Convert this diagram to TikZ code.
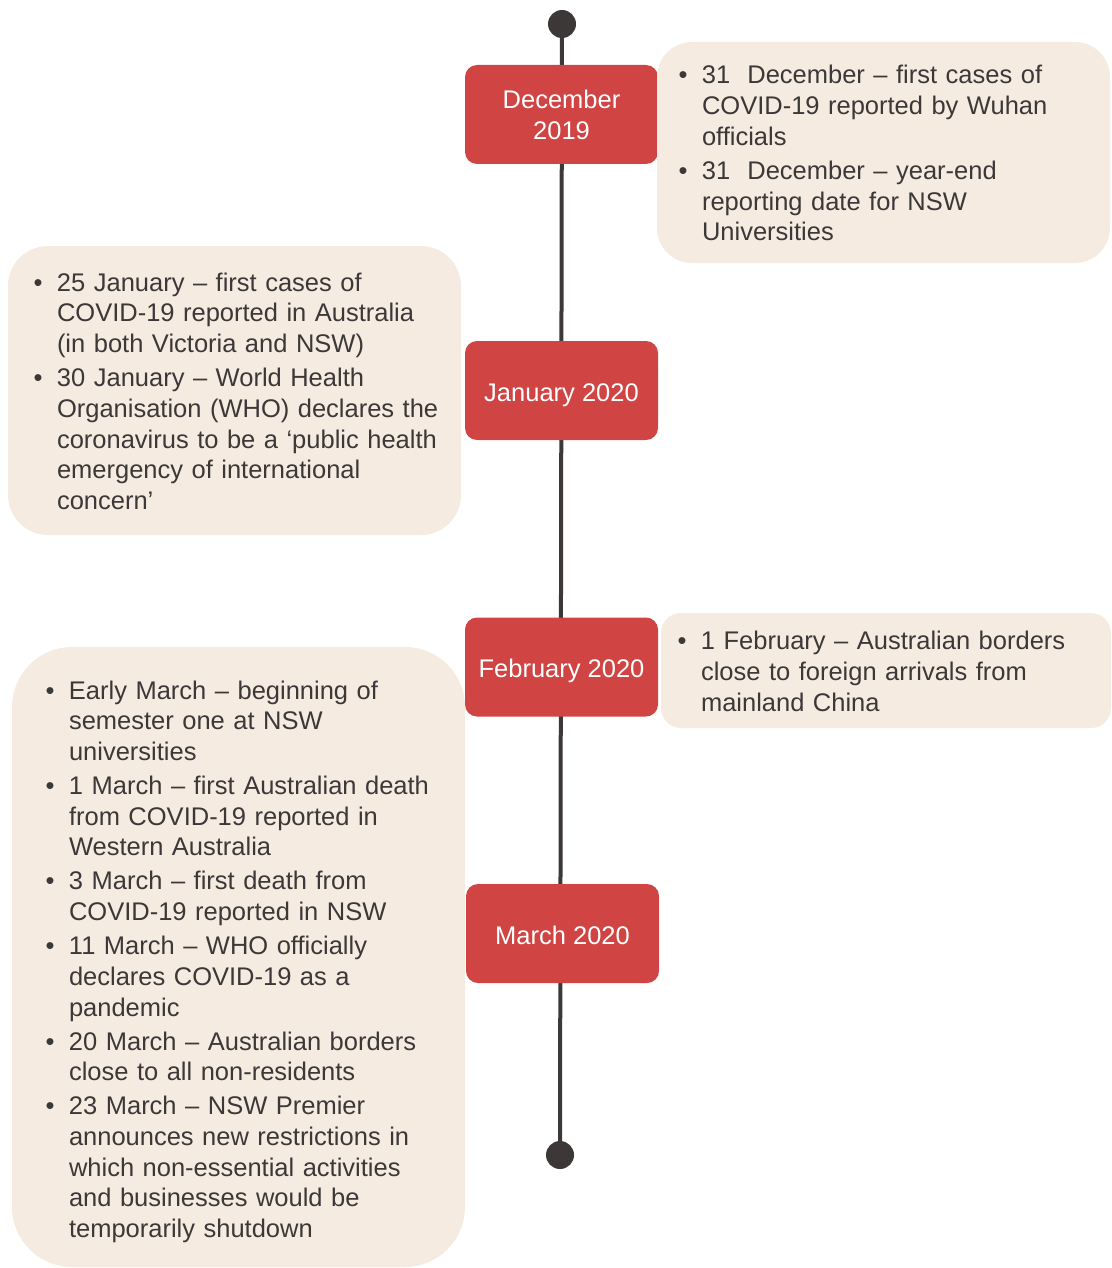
\documentclass[tikz,border=0pt]{standalone}
\usepackage{fontspec}
\setmainfont{Liberation Sans}
\usetikzlibrary{positioning}
\definecolor{markRed}{HTML}{D14444}
\definecolor{noteCream}{HTML}{F6EBE0}
\definecolor{lineDark}{HTML}{3C3838}
\newcommand{\bitem}[1]{\par\hangindent=23.5pt\hangafter=1\noindent\makebox[23.5pt][l]{\textbullet}#1\par}

\begin{document}
\begin{tikzpicture}[x=1pt, y=-1pt]
\tikzstyle{dotStyle}=[shape = circle, minimum size = 28pt, inner sep = 0pt, fill = lineDark]
\tikzstyle{lineStyle}=[line width = 4pt, color = lineDark]
\tikzstyle{monthStyle}=[shape = rectangle, rounded corners = 12pt, minimum width = 193pt, minimum height = 99pt, inner sep = 0pt, fill = markRed, text = white, align = center, font = \fontsize{25.5}{31}\selectfont]
\tikzstyle{monthSingle}=[monthStyle, text height = 21.3pt, text depth = 0pt]
\tikzstyle{noteStyle}=[shape = rectangle, fill = noteCream, inner sep = 0pt]
\tikzstyle{noteText}=[text width = 440pt, inner sep = 0pt, align = left, text = lineDark, anchor = west, font = \fontsize{25.5}{30.7}\selectfont\setlength{\parskip}{3.3pt}]
\useasboundingbox (0,0) rectangle (1111,1268);
\node[dotStyle] (start) at (562,24) {};
\node[dotStyle] (end) at (560,1155) {};
\draw[lineStyle] (start) -- (end);
\node[monthStyle] (dec) at (561.5,114.5) {December\\2019};
\node[monthSingle] (jan) at (561.5,390.5) {January 2020};
\node[monthSingle] (feb) at (561.5,667) {February 2020};
\node[monthSingle] (mar) at (562.5,933.5) {March 2020};
\node[noteStyle, minimum width = 453pt, minimum height = 221pt, rounded corners = 35pt] (decNote) at (883.5,152.5) {};
\node[noteText] (decText) at ([xshift=21.5pt, yshift=7pt]decNote.west) {%
\bitem{31~~December – first cases of\newline COVID-19 reported by Wuhan\newline officials}
\bitem{31~~December – year-end\newline reporting date for NSW\newline Universities}};
\node[noteStyle, minimum width = 453pt, minimum height = 289pt, rounded corners = 40pt] (janNote) at (234.5,390.5) {};
\node[noteText] (janText) at ([xshift=25.5pt, yshift=7pt]janNote.west) {%
\bitem{25 January – first cases of\newline COVID-19 reported in Australia\newline (in both Victoria and NSW)}
\bitem{30 January – World Health\newline Organisation (WHO) declares the\newline coronavirus to be a ‘public health\newline emergency of international\newline concern’}};
\node[noteStyle, minimum width = 450pt, minimum height = 115pt, rounded corners = 20pt] (febNote) at (886,670.5) {};
\node[noteText] (febText) at ([xshift=16.5pt, yshift=7pt]febNote.west) {%
\bitem{1 February – Australian borders\newline close to foreign arrivals from\newline mainland China}};
\node[noteStyle, minimum width = 453pt, minimum height = 620pt, rounded corners = 60pt] (marNote) at (238.5,957) {};
\node[noteText] (marText) at ([xshift=33.5pt, yshift=3pt]marNote.west) {%
\bitem{Early March – beginning of\newline semester one at NSW\newline universities}
\bitem{1 March – first Australian death\newline from COVID-19 reported in\newline Western Australia}
\bitem{3 March – first death from\newline COVID-19 reported in NSW}
\bitem{11 March – WHO officially\newline declares COVID-19 as a\newline pandemic}
\bitem{20 March – Australian borders\newline close to all non-residents}
\bitem{23 March – NSW Premier\newline announces new restrictions in\newline which non-essential activities\newline and businesses would be\newline temporarily shutdown}};
\end{tikzpicture}
\end{document}
